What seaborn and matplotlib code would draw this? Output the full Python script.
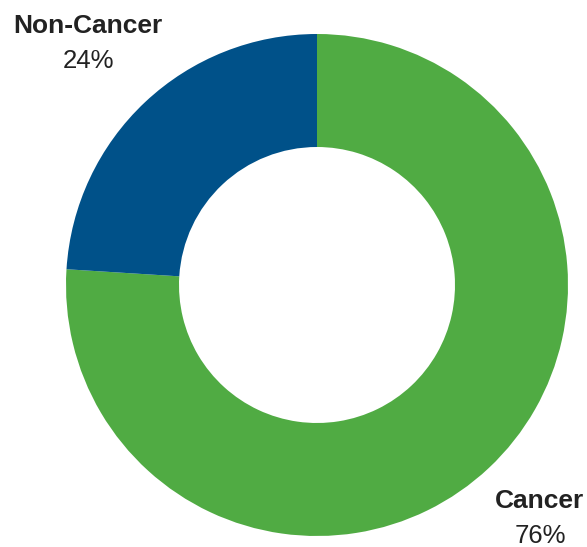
import matplotlib
matplotlib.use("Agg")
import matplotlib.pyplot as plt
import seaborn as sns

categories = ["Cancer", "Non-Cancer"]
shares = [76, 24]
slice_colors = ["#50ab43", "#005189"]

sns.set_theme(style="white")
plt.rcParams["font.family"] = ["Liberation Sans", "DejaVu Sans"]

W, H = 587, 547
fig = plt.figure(figsize=(W / 100, H / 100), dpi=100)
ax = fig.add_axes([0, 0, 1, 1])

palette = sns.color_palette(slice_colors)
cx, cy, r_out, r_in = 317, H - 285, 251, 138
ax.pie(shares, colors=palette, startangle=90, counterclock=False,
       center=(cx, cy), radius=r_out, frame=True,
       wedgeprops=dict(width=r_out - r_in, linewidth=0))
ax.set_xlim(0, W)
ax.set_ylim(0, H)
ax.set_aspect("equal")
ax.axis("off")

txt = "#222222"
labels_pos = {"Non-Cancer": (88, 33, 68), "Cancer": (540, 508, 543)}
for name, val in zip(categories, shares):
    x, yb1, yb2 = labels_pos[name]
    ax.text(x, H - yb1, name, ha="center", va="baseline", fontsize=19,
            fontweight="bold", color=txt)
    ax.text(x, H - yb2, f"{val}%", ha="center", va="baseline", fontsize=18.5,
            color=txt)

fig.savefig("out.png", dpi=100)
